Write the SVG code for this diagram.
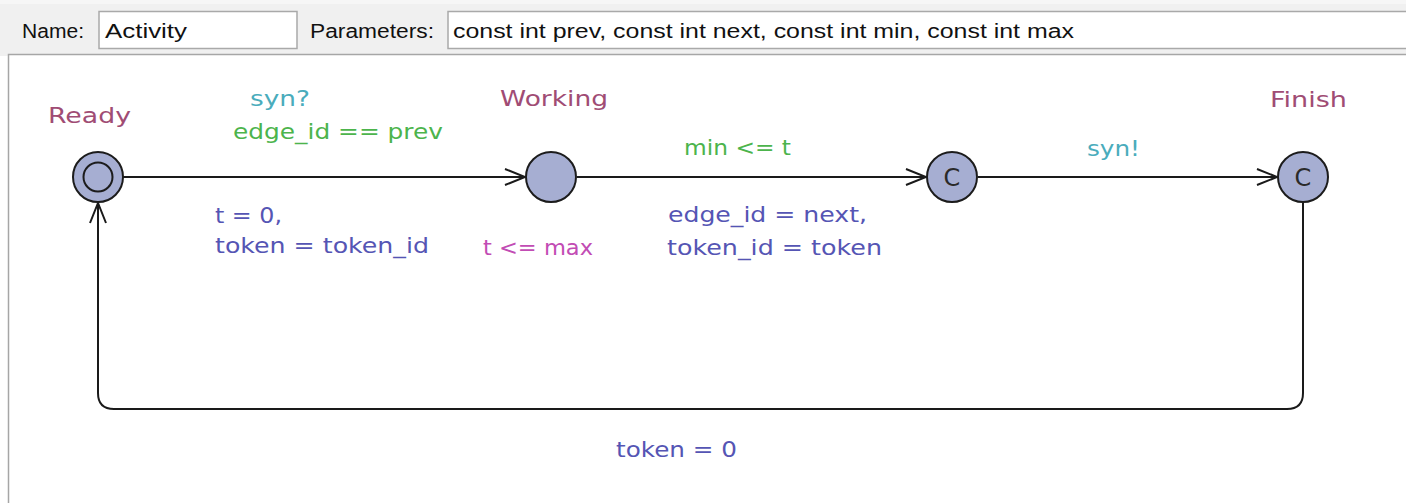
<svg xmlns="http://www.w3.org/2000/svg" width="1406" height="503" viewBox="0 0 1406 503">
  <defs>
    <style>
      .ui { font-family: "Liberation Sans", Arial, sans-serif; font-size: 20px; fill: #111; }
      .field { fill: #ffffff; stroke: #a9a9a9; stroke-width: 1.5; }
      .lbl { font-family: "DejaVu Sans", "Liberation Sans", sans-serif; font-size: 22px; }
      .name { fill: #a04c74; }
      .sync { fill: #4aacbc; }
      .guard { fill: #4cb44c; }
      .assign { fill: #5555b4; }
      .inv { fill: #c24cb4; }
      .loc { fill: #a6aed2; stroke: #1c1c1c; stroke-width: 2; }
      .edge { fill: none; stroke: #1a1a1a; stroke-width: 2; }
      .cmark { font-family: "DejaVu Sans", "Liberation Sans", sans-serif; font-size: 24px; fill: #2a2a2a; text-anchor: middle; }
    </style>
    <marker id="open-arrow" viewBox="-22 -10 24 20" refX="0" refY="0" markerWidth="24" markerHeight="20" markerUnits="userSpaceOnUse" orient="auto">
      <path d="M-20,-8 L0,0 L-20,8" fill="none" stroke="#1a1a1a" stroke-width="2"/>
    </marker>
  </defs>

  <!-- template header bar -->
  <g id="header">
    <rect x="0" y="0" width="1406" height="56" fill="#f0f0f0"/>
    <rect x="0" y="0" width="1406" height="4" fill="#f6f6f6"/>
    <text class="ui" x="22" y="38" textLength="62" lengthAdjust="spacingAndGlyphs">Name:</text>
    <rect class="field" x="99" y="11.5" width="198" height="37"/>
    <text class="ui" x="105" y="38" textLength="82" lengthAdjust="spacingAndGlyphs">Activity</text>
    <text class="ui" x="310" y="38" textLength="124" lengthAdjust="spacingAndGlyphs">Parameters:</text>
    <rect class="field" x="448" y="11.5" width="970" height="37"/>
    <text class="ui" x="453" y="38" textLength="621" lengthAdjust="spacingAndGlyphs">const int prev, const int next, const int min, const int max</text>
  </g>

  <!-- drawing canvas -->
  <rect id="canvas" x="8.5" y="54.5" width="1420" height="470" fill="#ffffff" stroke="#a6a6a6" stroke-width="1.5"/>

  <!-- transitions -->
  <g id="connectors">
    <line class="edge" x1="123" y1="177" x2="525" y2="177" marker-end="url(#open-arrow)"/>
    <line class="edge" x1="577" y1="177" x2="926" y2="177" marker-end="url(#open-arrow)"/>
    <line class="edge" x1="978" y1="177" x2="1277" y2="177" marker-end="url(#open-arrow)"/>
    <path class="edge" d="M1303,203 V393 Q1303,409 1287,409 H114 Q98,409 98,393 V203" marker-end="url(#open-arrow)"/>

    <!-- edge labels -->
    <text class="lbl sync" x="250" y="106" textLength="60" lengthAdjust="spacingAndGlyphs">syn?</text>
    <text class="lbl guard" x="233" y="139" textLength="210" lengthAdjust="spacingAndGlyphs">edge_id == prev</text>
    <text class="lbl assign" x="215" y="223" textLength="67" lengthAdjust="spacingAndGlyphs">t = 0,</text>
    <text class="lbl assign" x="215" y="253" textLength="214" lengthAdjust="spacingAndGlyphs">token = token_id</text>

    <text class="lbl guard" x="684" y="155" textLength="107" lengthAdjust="spacingAndGlyphs">min &lt;= t</text>
    <text class="lbl assign" x="668" y="222" textLength="199" lengthAdjust="spacingAndGlyphs">edge_id = next,</text>
    <text class="lbl assign" x="667" y="255" textLength="215" lengthAdjust="spacingAndGlyphs">token_id = token</text>

    <text class="lbl sync" x="1087" y="156" textLength="53" lengthAdjust="spacingAndGlyphs">syn!</text>

    <text class="lbl assign" x="616" y="457" textLength="121" lengthAdjust="spacingAndGlyphs">token = 0</text>
  </g>

  <!-- locations -->
  <g id="ready">
    <circle class="loc" cx="98" cy="177" r="25"/>
    <circle cx="98" cy="177" r="14.5" fill="none" stroke="#1c1c1c" stroke-width="2"/>
    <text class="lbl name" x="48" y="123" textLength="83" lengthAdjust="spacingAndGlyphs">Ready</text>
  </g>

  <g id="working">
    <circle class="loc" cx="551" cy="177" r="25"/>
    <text class="lbl name" x="500" y="106" textLength="108" lengthAdjust="spacingAndGlyphs">Working</text>
    <text class="lbl inv" x="483" y="255" textLength="110" lengthAdjust="spacingAndGlyphs">t &lt;= max</text>
  </g>

  <g id="committed">
    <circle class="loc" cx="952" cy="177" r="25"/>
    <text class="cmark" x="952" y="186">C</text>
  </g>

  <g id="finish">
    <circle class="loc" cx="1303" cy="177" r="25"/>
    <text class="cmark" x="1303" y="186">C</text>
    <text class="lbl name" x="1270" y="107" textLength="77" lengthAdjust="spacingAndGlyphs">Finish</text>
  </g>
</svg>
